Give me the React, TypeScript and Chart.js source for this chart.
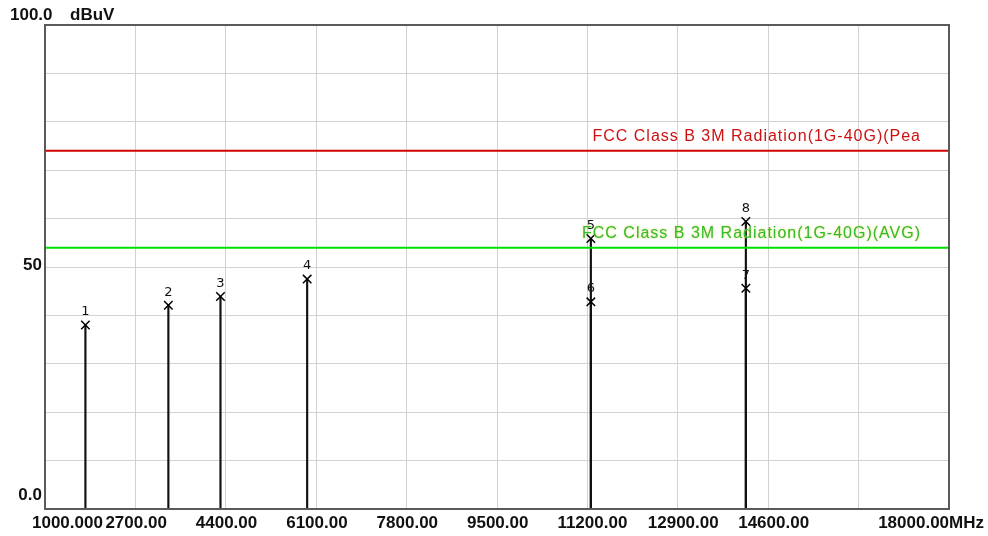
import React, { useEffect, useRef } from "react";
import { Chart, registerables } from "chart.js";

Chart.register(...registerables);

// ---- data ----
const markerIds = ["1", "2", "3", "4", "5", "6", "7", "8"];
const markerFreqMHz = [1760, 3320, 4300, 5930, 11265, 11265, 14180, 14180];
const markerLevelDbuV = [38.0, 42.1, 43.9, 47.5, 55.9, 42.8, 45.6, 59.4];

const limitPeakDbuV = 74;
const limitAvgDbuV = 54;
const limitPeakLabel = "FCC Class B 3M Radiation(1G-40G)(Pea";
const limitAvgLabel = "FCC Class B 3M Radiation(1G-40G)(AVG)";

const xMinMHz = 1000;
const xMaxMHz = 18000;
const xStepMHz = 1700;
const xTickValues = [1000, 2700, 4400, 6100, 7800, 9500, 11200, 12900, 14600, 18000];
const xTickLabels = [
  "1000.000",
  "2700.00",
  "4400.00",
  "6100.00",
  "7800.00",
  "9500.00",
  "11200.00",
  "12900.00",
  "14600.00",
  "18000.00MHz",
];

const yMin = 0;
const yMax = 100;
const yStep = 10;
const yTickValues = [0, 50, 100];
const yTickLabels = ["0.0", "50", "100.0"];
const yUnit = "dBuV";

const TICK_FONT = 'bold 17px "Liberation Sans", Arial, sans-serif';

const overlayPlugin = {
  id: "emiOverlay",
  afterDraw(chart: any) {
    const ctx = chart.ctx as CanvasRenderingContext2D;
    const area = chart.chartArea;
    const xs = chart.scales.x;
    const ys = chart.scales.y;
    ctx.save();

    // frame
    ctx.strokeStyle = "#5a5a5a";
    ctx.lineWidth = 2;
    ctx.strokeRect(area.left, area.top, area.right - area.left, area.bottom - area.top);

    // x tick labels
    ctx.font = TICK_FONT;
    ctx.fillStyle = "#111";
    ctx.textBaseline = "middle";
    xTickValues.forEach((v, i) => {
      const px = xs.getPixelForValue(v);
      const last = i === xTickValues.length - 1;
      if (last) {
        ctx.textAlign = "right";
        ctx.fillText(xTickLabels[i], chart.width - 4, area.bottom + 14);
      } else {
        ctx.textAlign = "left";
        const off = i === 0 ? -13 : -30;
        ctx.fillText(xTickLabels[i], px + off, area.bottom + 14);
      }
    });

    // y tick labels
    yTickValues.forEach((v, i) => {
      const py = ys.getPixelForValue(v);
      if (v === yMax) {
        ctx.textAlign = "left";
        ctx.fillText(yTickLabels[i], 10, py - 10);
        ctx.fillText(yUnit, 70, py - 10);
      } else if (v === yMin) {
        ctx.textAlign = "right";
        ctx.fillText(yTickLabels[i], area.left - 3, py - 14);
      } else {
        ctx.textAlign = "right";
        ctx.fillText(yTickLabels[i], area.left - 3, py - 2);
      }
    });

    // limit labels
    ctx.font = '16px "Liberation Sans", Arial, sans-serif';
    try {
      (ctx as any).letterSpacing = "1px";
    } catch (e) {}
    ctx.textAlign = "right";
    ctx.fillStyle = "#cc1111";
    ctx.fillText(limitPeakLabel, area.right - 28, ys.getPixelForValue(limitPeakDbuV) - 14);
    ctx.shadowColor = "rgba(220,220,60,0.9)";
    ctx.shadowBlur = 2;
    ctx.fillStyle = "#33bb33";
    ctx.fillText(limitAvgLabel, area.right - 28, ys.getPixelForValue(limitAvgDbuV) - 14);
    ctx.shadowBlur = 0;
    ctx.shadowColor = "transparent";
    try {
      (ctx as any).letterSpacing = "0px";
    } catch (e) {}

    // marker numbers
    const meta = chart.getDatasetMeta(3);
    ctx.font = '13px "DejaVu Sans", sans-serif';
    ctx.fillStyle = "#111";
    ctx.textAlign = "center";
    meta.data.forEach((pt: any, i: number) => {
      ctx.fillText(markerIds[i], pt.x, pt.y - 13);
    });

    ctx.restore();
  },
};

export default function App() {
  const canvasRef = useRef<HTMLCanvasElement | null>(null);

  useEffect(() => {
    const canvas = canvasRef.current;
    if (!canvas) return;
    const points = markerFreqMHz.map((f, i) => ({ x: f, y: markerLevelDbuV[i] }));
    const chart = new Chart(canvas, {
      type: "line",
      data: {
        datasets: [
          {
            type: "line",
            label: limitPeakLabel,
            data: [
              { x: xMinMHz, y: limitPeakDbuV },
              { x: xMaxMHz, y: limitPeakDbuV },
            ],
            borderColor: "#d40000",
            borderWidth: 2,
            pointRadius: 0,
            order: 1,
          },
          {
            type: "line",
            label: limitAvgLabel,
            data: [
              { x: xMinMHz, y: limitAvgDbuV },
              { x: xMaxMHz, y: limitAvgDbuV },
            ],
            borderColor: "#00e000",
            borderWidth: 2,
            pointRadius: 0,
            order: 2,
          },
          {
            type: "bar",
            label: "stems",
            data: points,
            backgroundColor: "#111",
            barThickness: 1.5,
            order: 3,
          } as any,
          {
            type: "scatter",
            label: "markers",
            data: points,
            pointStyle: "crossRot",
            pointRadius: 6,
            borderColor: "#000",
            backgroundColor: "#000",
            borderWidth: 1.5,
            showLine: false,
            order: 0,
          } as any,
        ],
      },
      options: {
        responsive: false,
        animation: false,
        events: [],
        layout: { padding: { left: 45, top: 25, right: 39, bottom: 27 } },
        plugins: {
          legend: { display: false },
          tooltip: { enabled: false },
        },
        scales: {
          x: {
            type: "linear",
            min: xMinMHz,
            max: xMaxMHz,
            ticks: { display: false, stepSize: xStepMHz },
            grid: { color: "#d2d2d2", lineWidth: 1, drawTicks: false, offset: false },
            border: { display: false },
            offset: false,
          },
          y: {
            type: "linear",
            min: yMin,
            max: yMax,
            ticks: { display: false, stepSize: yStep },
            grid: { color: "#d2d2d2", lineWidth: 1, drawTicks: false },
            border: { display: false },
          },
        },
      },
      plugins: [overlayPlugin],
    } as any);
    return () => chart.destroy();
  }, []);

  return (
    <div
      style={{
        position: "absolute",
        left: 0,
        top: 0,
        width: 988,
        height: 536,
        background: "#fff",
      }}
    >
      <canvas ref={canvasRef} width={988} height={536} style={{ width: 988, height: 536 }} />
    </div>
  );
}
